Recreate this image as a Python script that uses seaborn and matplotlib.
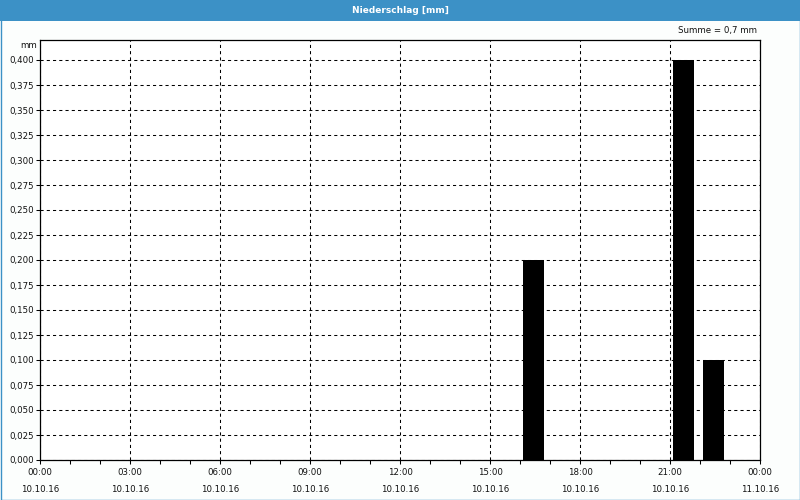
import matplotlib
matplotlib.use("Agg")
import matplotlib.pyplot as plt
from matplotlib.patches import Rectangle
from matplotlib.ticker import MultipleLocator, FuncFormatter
import seaborn as sns
import pandas as pd

# ---- data ----
hours = [16, 21, 22]            # start hour of hourly precipitation sum (10.10.16)
precip_mm = [0.2, 0.4, 0.1]     # mm
tick_times = ["00:00", "03:00", "06:00", "09:00", "12:00", "15:00", "18:00", "21:00", "00:00"]
tick_dates = ["10.10.16"] * 8 + ["11.10.16"]
title = "Niederschlag [mm]"
unit = "mm"
summe = "Summe = 0,7 mm"

sns.set_theme(style="white")
plt.rcParams["font.family"] = ["DejaVu Sans"]

BLUE = "#3c91c6"
fig = plt.figure(figsize=(8, 5), dpi=100, facecolor="#fcfefd")

# title bar and border
fig.patches.append(Rectangle((0, 1 - 21 / 500), 1, 21 / 500, transform=fig.transFigure,
                             facecolor=BLUE, edgecolor="none", zorder=0))
fig.patches.append(Rectangle((0.5 / 800, 0.5 / 500), 1 - 1 / 800, 1 - 1 / 500, transform=fig.transFigure,
                             facecolor="none", edgecolor=BLUE, linewidth=1.0, zorder=5))
fig.text(0.5, 1 - 10.5 / 500, title, color="white", fontsize=6.5, fontweight="bold",
         ha="center", va="center")
fig.text(757 / 800, 1 - 30 / 500, summe, color="#111111", fontsize=6.2, ha="right", va="center")

ax = fig.add_axes([40 / 800, 40 / 500, 720 / 800, 420 / 500])
ax.set_facecolor("white")

df = pd.DataFrame({"center": [h + 0.45 for h in hours], "mm": precip_mm})
sns.barplot(data=df, x="center", y="mm", native_scale=True, width=0.7, color="black",
            saturation=1, linewidth=0, ax=ax, zorder=3)

ax.set_xlim(0, 24)
ax.set_ylim(0, 0.42)
ax.set_xlabel("")
ax.set_ylabel("")

ax.xaxis.set_major_locator(MultipleLocator(3))
ax.xaxis.set_minor_locator(MultipleLocator(1))
ax.set_xticks(list(range(0, 25, 3)))
ax.set_xticklabels([f"{t}\n{d}" for t, d in zip(tick_times, tick_dates)], linespacing=2.1)
ax.yaxis.set_major_locator(MultipleLocator(0.025))
ax.yaxis.set_major_formatter(FuncFormatter(lambda v, p: f"{v:.3f}".replace(".", ",")))

ax.grid(True, which="major", color="black", linestyle=(0, (3, 3)), linewidth=0.75)
ax.set_axisbelow(True)
for s in ax.spines.values():
    s.set_visible(True)
    s.set_color("black")
    s.set_linewidth(0.9)

ax.tick_params(axis="both", which="both", direction="out", colors="black", labelcolor="#111111",
               labelsize=6.2)
ax.tick_params(axis="x", which="major", length=3, width=0.75, pad=3, bottom=True)
ax.tick_params(axis="x", which="minor", length=3, width=0.75, bottom=True)
ax.tick_params(axis="y", which="major", length=3, width=0.75, pad=1.5, left=True)

fig.text(37 / 800, 1 - 45 / 500, unit, color="#111111", fontsize=6.2, ha="right", va="center")

fig.savefig("out.png", dpi=100, facecolor=fig.get_facecolor())
